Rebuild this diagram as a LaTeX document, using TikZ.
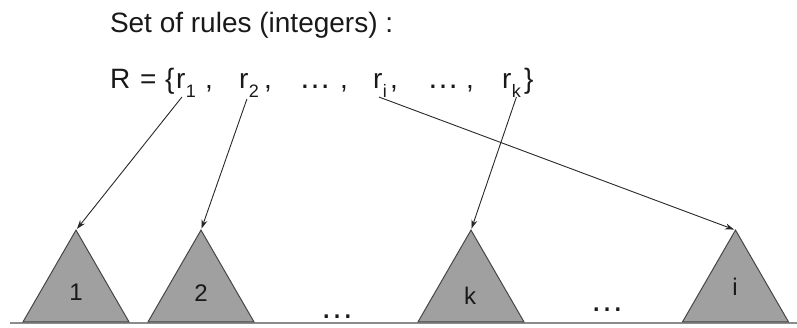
\documentclass[tikz,border=0pt]{standalone}
\usepackage{fontspec}
\setmainfont{Liberation Sans}
\usetikzlibrary{shapes.geometric,arrows.meta}
\definecolor{trigray}{RGB}{160,160,160}
\definecolor{triedge}{RGB}{70,70,70}
\definecolor{groundcol}{RGB}{140,140,140}
\definecolor{arrcol}{RGB}{40,40,40}
\definecolor{txtcol}{RGB}{25,25,25}
\newcommand{\subsc}[1]{\kern0.5pt\raisebox{-9pt}{\fontsize{18}{18}\selectfont #1}}
\begin{document}
\begin{tikzpicture}[x=1pt,y=-1pt,
  txt/.style={inner sep=0pt, outer sep=0pt, anchor=base west, font=\fontsize{28}{30}\selectfont, text=txtcol},
  tdots/.style={inner sep=0pt, outer sep=0pt, anchor=base west, font=\fontsize{32}{34}\selectfont, text=txtcol},
  tri/.style={regular polygon, regular polygon sides=3, minimum size=122.4pt, inner sep=0pt, outer sep=0pt, fill=trigray, draw=triedge, line width=1pt},
  lab/.style={font=\fontsize{24}{26}\selectfont, inner sep=0pt, text=txtcol},
  bdots/.style={font=\fontsize{34}{36}\selectfont, inner sep=0pt, anchor=base, text=txtcol},
  arr/.style={-{Stealth[length=9pt,width=6pt]}, line width=0.9pt, draw=arrcol, shorten >=1.5pt},
  ground/.style={draw=groundcol, line width=2.2pt}]
\useasboundingbox (0,0) rectangle (797,327);
% title
\node[txt] (title) at (110,32) {Set of rules (integers) :};
% set line
\node[txt] (R) at (110,88) {R};
\node[txt] (eq) at (140,88) {=};
\node[txt] (lb) at (165,88) {\{};
\node[txt] (r1) at (176,88) {r\subsc{1}};
\node[txt] (c1) at (205,88) {,};
\node[txt] (r2) at (239,88) {r\subsc{2}};
\node[txt] (c2) at (264,88) {,};
\node[tdots] (d1) at (299,88) {…};
\node[txt] (c3) at (340,88) {,};
\node[txt] (ri) at (373,88) {r\subsc{i}};
\node[txt] (c4) at (390,88) {,};
\node[tdots] (d2) at (427,88) {…};
\node[txt] (c5) at (466,88) {,};
\node[txt] (rk) at (502,88) {r\subsc{k}};
\node[txt] (rb) at (524,88) {\}};
% ground
\coordinate (g1) at (10,323);
\coordinate (g2) at (797,323);
\draw[ground] (g1) -- (g2);
% triangles
\node[tri] (t1) at (76,291.3) {};
\node[tri] (t2) at (201,291.3) {};
\node[tri] (tk) at (471,291.3) {};
\node[tri] (ti) at (735.5,291.3) {};
\node[lab] (l1) at (76,292) {1};
\node[lab] (l2) at (201,293) {2};
\node[lab] (lk) at (470,296) {k};
\node[lab] (li) at (735,287) {i};
\node[bdots] (e1) at (337,318.7) {…};
\node[bdots] (e2) at (607,311.7) {…};
% arrows
\draw[arr] ([xshift=-4pt]r1.south) -- (t1.north);
\draw[arr] ([xshift=-2pt,yshift=-2pt]r2.south) -- (t2.north);
\draw[arr] ([xshift=-1pt]ri.south) -- (ti.north);
\draw[arr] ([xshift=5pt]rk.south) -- (tk.north);
\end{tikzpicture}
\end{document}
